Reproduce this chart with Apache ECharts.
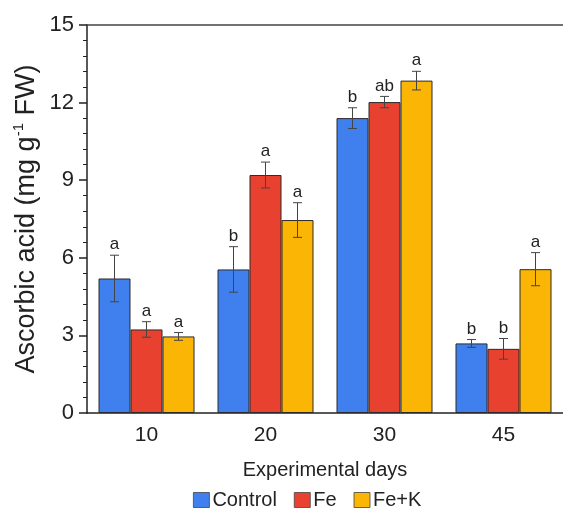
<!DOCTYPE html>
<html><head><meta charset="utf-8">
<script src="https://cdn.jsdelivr.net/npm/echarts@6/dist/echarts.min.js"></script>
<style>html,body{margin:0;padding:0;background:#fff}#c{width:563px;height:509px}</style>
</head><body><div id="c"></div>
<script>
const categories = ['10', '20', '30', '45'];
const seriesNames = ['Control', 'Fe', 'Fe+K'];
const controlVals = [5.2, 5.55, 11.4, 2.69];
const feVals = [3.23, 9.2, 12.02, 2.48];
const fekVals = [2.96, 7.46, 12.85, 5.56];
const controlErr = [0.9, 0.88, 0.4, 0.15];
const feErr = [0.3, 0.5, 0.22, 0.4];
const fekErr = [0.15, 0.67, 0.36, 0.64];
const controlLetters = ['a', 'b', 'b', 'b'];
const feLetters = ['a', 'a', 'ab', 'b'];
const fekLetters = ['a', 'a', 'a', 'a'];
const yTicks = [0, 3, 6, 9, 12, 15];

const colors = ['#3F80EE', '#E9412F', '#FBB605'];
const vals = [controlVals, feVals, fekVals];
const errs = [controlErr, feErr, fekErr];
const letters = [controlLetters, feLetters, fekLetters];
const BW = 32;
const FONT = 'Liberation Sans, Arial, sans-serif';

const chart = echarts.init(document.getElementById('c'));
const series = [];
seriesNames.forEach((n, si) => {
  series.push({
    name: n, type: 'bar', data: vals[si], barWidth: BW, barGap: '0%',
    itemStyle: { color: colors[si], borderColor: '#2b2b2b', borderWidth: 1 },
    z: 2
  });
});
seriesNames.forEach((n, si) => {
  const data = vals[si].map((v, i) => [i, v, errs[si][i]]);
  series.push({
    type: 'custom', name: n + '_err', data: data, z: 5, silent: true,
    renderItem: function (params, api) {
      const idx = api.value(0), v = api.value(1), e = api.value(2);
      const letter = letters[si][idx];
      const off = (si - 1) * BW;
      const top = api.coord([idx, v + e]);
      const bot = api.coord([idx, v - e]);
      const x = top[0] + off;
      const cw = 4.5;
      const st = { stroke: '#444', lineWidth: 1 };
      return {
        type: 'group', children: [
          { type: 'line', shape: { x1: x, y1: top[1], x2: x, y2: bot[1] }, style: st },
          { type: 'line', shape: { x1: x - cw, y1: top[1], x2: x + cw, y2: top[1] }, style: st },
          { type: 'line', shape: { x1: x - cw, y1: bot[1], x2: x + cw, y2: bot[1] }, style: st },
          { type: 'text', style: { text: letter, x: x, y: top[1] - 2, textAlign: 'center', textVerticalAlign: 'bottom', fontSize: 17, fontFamily: FONT, fill: '#222' } }
        ]
      };
    }
  });
});

chart.setOption({
  animation: false,
  textStyle: { fontFamily: FONT },
  grid: { left: 87, top: 25, width: 480, height: 388 },
  legend: {
    data: seriesNames, bottom: -6, left: 188, icon: 'rect', itemWidth: 16, itemHeight: 15, itemGap: 17,
    textStyle: { fontSize: 20, color: '#222', fontFamily: FONT, padding: [0, 0, 0, -2] },
    itemStyle: { borderColor: '#444', borderWidth: 0.8 }
  },
  xAxis: [{
    type: 'category', data: categories,
    axisLine: { lineStyle: { color: '#222', width: 1.5 } },
    axisTick: { alignWithLabel: true, length: 7, lineStyle: { color: '#222', width: 1.5 } },
    axisLabel: { fontSize: 21, color: '#222', margin: 12, fontFamily: FONT },
    name: 'Experimental days', nameLocation: 'middle', nameGap: 47,
    nameTextStyle: { fontSize: 20, color: '#222', fontFamily: FONT }
  }, {
    type: 'category', data: categories, position: 'top',
    axisLine: { lineStyle: { color: '#444', width: 1.5 } },
    axisTick: { show: false }, axisLabel: { show: false }
  }],
  yAxis: {
    type: 'value', min: 0, max: 15, interval: 3,
    axisLine: { show: true, lineStyle: { color: '#222', width: 1.5 } },
    axisTick: { show: true, length: 8, lineStyle: { color: '#222', width: 1.5 } },
    minorTick: { show: true, splitNumber: 5, length: 4, lineStyle: { color: '#222', width: 1 } },
    splitLine: { show: false },
    axisLabel: { fontSize: 22, color: '#222', margin: 13, fontFamily: FONT,
      formatter: v => yTicks.includes(v) ? String(v) : '' },
    name: '{n|Ascorbic acid (mg g}{s|-1}{n| FW)}', nameLocation: 'middle', nameGap: 45,
    nameMoveOverlap: false,
    nameTextStyle: {
      color: '#222', fontFamily: FONT,
      rich: {
        n: { fontSize: 27, color: '#222', fontFamily: FONT },
        s: { fontSize: 15, color: '#222', fontFamily: FONT, padding: [0, 0, 16, 0] }
      }
    }
  },
  series: series
});
</script></body></html>
